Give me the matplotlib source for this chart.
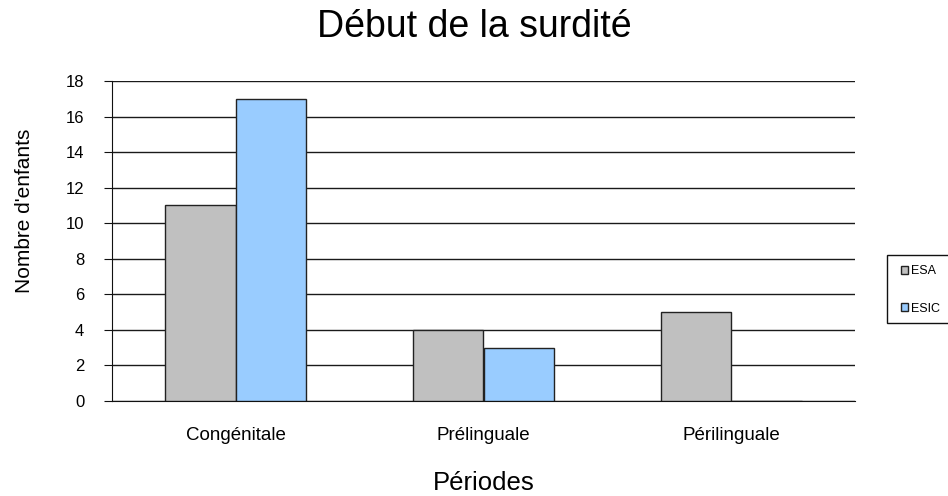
import numpy as np
import matplotlib.pyplot as plt
from matplotlib.patches import Rectangle

plt.rcParams['font.family'] = ['Liberation Sans', 'DejaVu Sans']

periodes = ["Congénitale", "Prélinguale", "Périlinguale"]
esa = [11, 4, 5]
esic = [17, 3, 0]
yticks = [0, 2, 4, 6, 8, 10, 12, 14, 16, 18]

fig = plt.figure(figsize=(9.48, 4.96), dpi=100)
ax = fig.add_axes([112 / 948, 95 / 496, 743 / 948, 320 / 496])

ind = np.arange(len(periodes))
w = 0.285
p1 = ax.bar(ind - w / 2, esa, width=w, color='#C0C0C0', edgecolor='#222222', linewidth=1.0, zorder=3)
p2 = ax.bar(ind + w / 2, esic, width=w, color='#99CCFF', edgecolor='#222222', linewidth=1.0, zorder=3)

ax.set_xlim(-0.5, 2.5)
ax.set_ylim(0, 18)
ax.set_yticks(yticks)
ax.set_xticks(ind)
ax.set_xticklabels(periodes)
ax.yaxis.grid(True, color='#1a1a1a', linewidth=1.0)
ax.set_axisbelow(True)
for s in ['top', 'right']:
    ax.spines[s].set_visible(False)
ax.spines['left'].set_color('#111111')
ax.spines['bottom'].set_color('#111111')
ax.tick_params(axis='y', direction='out', length=6, pad=14, labelsize=12, color='#111111')
ax.tick_params(axis='x', length=0, pad=19, labelsize=13.5)

fig.text(0.5, 1 - 37 / 496, "Début de la surdité", ha='center', va='baseline', fontsize=27)
fig.text(25 / 948, 1 - 211 / 496, "Nombre d'enfants", ha='center', va='center', rotation=90, fontsize=15)
fig.text(484 / 948, 1 - 490 / 496, "Périodes", ha='center', va='baseline', fontsize=18.5)

# legend box runs off the right edge of the figure
fig.patches.append(Rectangle((887 / 948, 1 - 323 / 496), 80 / 948, 68 / 496, transform=fig.transFigure,
                             facecolor='white', edgecolor='#111111', linewidth=1.0, clip_on=False))
leg = fig.legend((p1[0], p2[0]), ("ESA", "ESIC"), loc='upper left', bbox_to_anchor=(893 / 948, 1 - 258 / 496),
                 frameon=False, fontsize=9, handlelength=0.6, handleheight=0.6,
                 handletextpad=0.2, labelspacing=2.0, borderpad=0.6, borderaxespad=0)

fig.savefig('out.png', dpi=100)
